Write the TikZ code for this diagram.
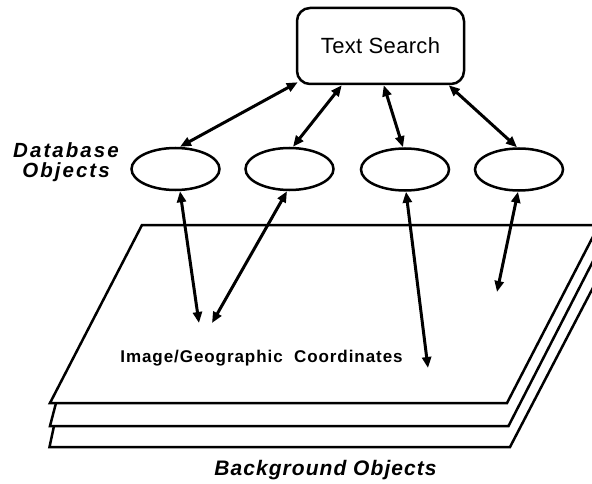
\documentclass[tikz,border=0pt]{standalone}
\usepackage{fontspec}
\setmainfont{Liberation Sans}
\usetikzlibrary{shapes.geometric,arrows.meta,calc}
\begin{document}
\begin{tikzpicture}[x=1pt,y=-1pt,
  obj/.style={draw,fill=white,ellipse,line width=2.5pt,minimum width=88pt,minimum height=42pt,inner sep=0pt},
  searchbox/.style={draw,fill=white,line width=2.5pt,rounded corners=13pt,minimum width=167pt,minimum height=76pt,inner sep=0pt,font=\fontsize{22}{24}\selectfont\addfontfeature{LetterSpace=1.5}},
  plane/.style={draw,fill=white,line width=2.5pt,line join=miter},
  link/.style={line width=3pt,{Triangle[length=11pt,width=9pt]}-{Triangle[length=11pt,width=9pt]}},
  lbl/.style={inner sep=0pt,align=center}]
\useasboundingbox (0,0) rectangle (592,484);
\clip (0,0) rectangle (592,484);
% background planes
\draw[plane] (49.5,447) -- (54,426) -- (145,232) -- (622,232) -- (510,447) -- cycle;
\draw[plane] (50,426) -- (56,403) -- (145,230) -- (609,230) -- (508.5,426) -- cycle;
\draw[plane] (50,403) -- (142,225) -- (599,225) -- (507,403) -- cycle;
% nodes
\node[searchbox] (ts) at (380.5,46) {Text Search};
\node[obj] (e1) at (175.5,169) {};
\node[obj] (e2) at (289.5,169) {};
\node[obj] (e3) at (405,169.5) {};
\node[obj] (e4) at (519,169.5) {};
\coordinate (c5) at (199,323);
\coordinate (c6) at (212,323);
\coordinate (c7) at (428,368);
\coordinate (c8) at (497,292);
% connectors
\draw[link] ($(ts.south west)+(2,-3)$) -- ($(e1.north)+(4.5,0)$);
\draw[link] ($(ts.south west)+(46,0)$) -- ($(e2.north)+(3.5,0)$);
\draw[link] ($(ts.south west)+(88,0)$) -- ($(e3.north)+(-2,0)$);
\draw[link] ($(ts.south west)+(153,0)$) -- ($(e4.north)+(-2,0)$);
\draw[link] ($(e1.south)+(4.5,0)$) -- (c5);
\draw[link] ($(e2.south)+(-2.5,0)$) -- (c6);
\draw[link] ($(e3.south)+(1,0)$) -- (c7);
\draw[link] ($(e4.south)+(-1,0)$) -- (c8);
% labels
\node[lbl,font=\bfseries\itshape\fontsize{20.5}{20}\selectfont\addfontfeature{LetterSpace=10}] (db) at (66,162) {Database\\Objects};
\node[lbl,font=\bfseries\fontsize{17}{17}\selectfont\addfontfeature{LetterSpace=5.5}] (ig) at (261.5,358) {Image/Geographic\ \ Coordinates};
\node[lbl,font=\bfseries\itshape\fontsize{21}{21}\selectfont\addfontfeature{LetterSpace=5}] (bg) at (325.5,470) {Background Objects};
\end{tikzpicture}
\end{document}
